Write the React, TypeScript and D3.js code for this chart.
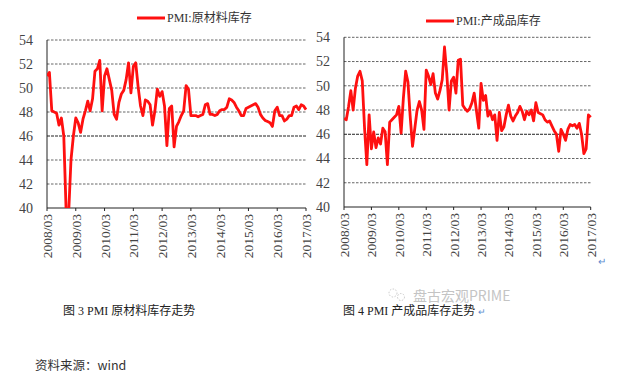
import React from "react";
import * as d3 from "d3";

// PMI 原材料库存, monthly 2008/03 - 2017/03
const rawMaterial = [
  51.0, 51.3, 48.1, 48.0, 47.9, 46.9, 47.5, 46.0, 39.6, 39.4,
  44.0, 46.0, 47.5, 47.1, 46.3, 47.4, 48.1, 48.9, 48.1, 49.1,
  51.4, 51.6, 52.3, 48.1, 51.0, 51.6, 50.7, 49.8, 47.8, 47.4,
  48.8, 49.5, 49.8, 50.7, 52.1, 49.6, 51.8, 52.1, 50.1, 48.5,
  47.7, 49.0, 48.9, 48.6, 46.9, 48.1, 49.9, 49.3, 49.7, 48.5,
  45.2, 48.3, 48.5, 45.1, 46.8, 47.2, 47.7, 48.1, 50.2, 49.9,
  47.7, 47.7, 47.7, 47.6, 47.7, 47.8, 48.6, 48.7, 47.8, 47.8,
  47.7, 47.8, 48.1, 48.2, 48.2, 48.4, 49.1, 49.0, 48.8, 48.4,
  48.1, 47.7, 47.7, 48.3, 48.4, 48.5, 48.6, 48.7, 48.4, 47.8,
  47.5, 47.3, 47.2, 47.1, 46.8, 48.1, 48.4, 47.7, 47.7, 47.25,
  47.4, 47.7, 47.7, 48.4, 48.5, 48.2, 48.6, 48.5, 48.2,
];

// PMI 产成品库存, monthly 2008/03 - 2017/03
const finishedGoods = [
  47.3, 47.2, 48.3, 49.6, 48.0, 49.8, 50.8, 51.2, 50.4, 46.5,
  43.5, 47.6, 44.8, 46.2, 44.9, 45.7, 45.2, 46.5, 46.2, 43.5,
  47.0, 47.2, 47.4, 47.6, 48.3, 46.1, 49.0, 51.2, 50.3, 47.4,
  45.0, 46.5, 48.0, 48.7, 48.0, 46.4, 51.3, 50.8, 50.1, 51.0,
  49.4, 48.9, 49.6, 50.5, 53.2, 51.0, 48.0, 50.4, 50.7, 49.4,
  52.1, 52.2, 48.4, 48.1, 47.9, 48.1, 48.6, 49.4, 47.9, 46.5,
  50.2, 48.8, 49.2, 47.5, 47.9, 47.2, 47.6, 45.5, 47.8, 46.3,
  46.6, 47.6, 48.4, 47.5, 47.1, 47.5, 47.8, 48.3, 47.9, 47.2,
  47.9, 47.6, 48.0, 47.1, 48.6, 47.8, 47.7, 47.6, 47.2, 47.0,
  47.1, 46.7, 46.3, 46.0, 44.6, 46.4, 46.0, 45.5, 46.4, 46.8,
  46.7, 46.8, 46.5, 46.9, 46.0, 44.4, 44.8, 47.6, 47.4,
];

const yearLabels = [
  "2008/03", "2009/03", "2010/03", "2011/03", "2012/03",
  "2013/03", "2014/03", "2015/03", "2016/03", "2017/03",
];
const yTicks = [40, 42, 44, 46, 48, 50, 52, 54];

const RED = "#ff1010";
const SERIF = "'Liberation Serif', 'Noto Sans CJK SC', serif";
const CJK = "'Noto Sans CJK SC', sans-serif";

type PanelProps = {
  id: string;
  values: number[];
  legend: string;
  xRange: [number, number];
  yRange: [number, number];
  legendX: number;
  legendY: number;
};

function Panel({ id, values, legend, xRange, yRange, legendX, legendY }: PanelProps) {
  const x = d3.scaleLinear().domain([0, values.length - 1]).range(xRange);
  const y = d3.scaleLinear().domain([40, 54]).range(yRange);
  const line = d3
    .line<number>()
    .x((_, i) => x(i))
    .y((d) => y(d));
  const [x0, x1] = xRange;
  const bottom = yRange[0];
  const top = yRange[1];

  return (
    <g>
      <defs>
        <clipPath id={id}>
          <rect x={x0} y={top - 4} width={x1 - x0 + 4} height={bottom - top + 4} />
        </clipPath>
      </defs>

      {/* grid */}
      {yTicks.slice(1).map((t) => (
        <line
          key={t}
          x1={x0}
          x2={x1}
          y1={y(t)}
          y2={y(t)}
          stroke={t === 46 ? "#222" : "#666"}
          strokeWidth={1}
          strokeDasharray={t === 46 ? "3,1" : "2.5,1.5"}
        />
      ))}

      {/* y labels */}
      {yTicks.map((t) => (
        <text
          key={t}
          x={x0 - 14}
          y={y(t)}
          dy="0.35em"
          textAnchor="end"
          fontFamily={SERIF}
          fontSize={14}
          fill="#444"
        >
          {t}
        </text>
      ))}

      {/* axes */}
      <line x1={x0} x2={x0} y1={top} y2={bottom} stroke="#222" strokeWidth={1} />
      <line x1={x0} x2={x1} y1={bottom} y2={bottom} stroke="#222" strokeWidth={1} />
      {yearLabels.map((lab, k) => {
        const tx = x(k * 12);
        return (
          <g key={lab}>
            <line x1={tx} x2={tx} y1={bottom} y2={bottom + 3} stroke="#222" />
            <text
              transform={`translate(${tx + 5},${bottom + 6}) rotate(-90)`}
              textAnchor="end"
              fontFamily={SERIF}
              fontSize={13.5}
              fill="#444"
            >
              {lab}
            </text>
          </g>
        );
      })}

      {/* series */}
      <path
        d={line(values) ?? ""}
        fill="none"
        stroke={RED}
        strokeWidth={2.8}
        strokeLinejoin="round"
        clipPath={`url(#${id})`}
      />

      {/* legend */}
      <line x1={legendX} x2={legendX + 28} y1={legendY} y2={legendY} stroke={RED} strokeWidth={3} />
      <text x={legendX + 30} y={legendY} dy="0.35em" fontFamily={SERIF} fontSize={12} fill="#333">
        {legend}
      </text>
    </g>
  );
}

export default function App() {
  return (
    <svg
      width={620}
      height={386}
      style={{ position: "absolute", left: 0, top: 0, background: "#fff" }}
    >
      <Panel
        id="clipL"
        values={rawMaterial}
        legend="PMI:原材料库存"
        xRange={[47, 306]}
        yRange={[208, 40]}
        legendX={137}
        legendY={18}
      />
      <Panel
        id="clipR"
        values={finishedGoods}
        legend="PMI:产成品库存"
        xRange={[344, 590.7]}
        yRange={[207, 37.3]}
        legendX={426}
        legendY={21}
      />

      <text x={598} y={265} fontFamily={CJK} fontSize={10} fill="#5b8bd0">↵</text>

      {/* captions */}
      <text x={63} y={315} fontFamily={SERIF} fontSize={12} fill="#222">
        图 3 PMI 原材料库存走势
      </text>
      <text x={343} y={315} fontFamily={SERIF} fontSize={12} fill="#222">
        图 4 PMI 产成品库存走势
      </text>
      <text x={478} y={315} fontFamily={CJK} fontSize={9} fill="#5b8bd0">↵</text>

      {/* watermark */}
      <g stroke="#c8c8c8" fill="none" strokeWidth={1}>
        <circle cx={393} cy={293} r={4} strokeDasharray="1.5,1.5" />
        <circle cx={401} cy={297} r={3.5} strokeDasharray="1.5,1.5" />
      </g>
      <text x={413} y={301} fontFamily={CJK} fontSize={14} fill="#c4c4c4">
        盘古宏观PRIME
      </text>

      <text x={35} y={370} fontFamily={CJK} fontSize={12.5} fill="#333">
        资料来源：wind
      </text>
    </svg>
  );
}
